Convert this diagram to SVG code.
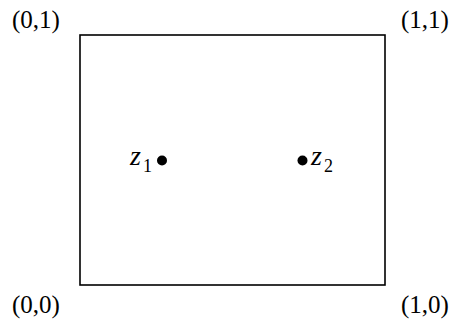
<svg xmlns="http://www.w3.org/2000/svg" width="455" height="323" viewBox="0 0 455 323">
<style>
.t{font-family:"Liberation Serif","DejaVu Serif",serif;font-size:25px;fill:#000}
.z{font-family:"Liberation Serif","DejaVu Serif",serif;font-size:28px;font-style:italic;fill:#000}
.s{font-family:"Liberation Serif","DejaVu Serif",serif;font-size:18px;fill:#000}
</style>
<rect fill="#fff" width="455" height="323"/>
<g id="square"><rect x="80" y="35" width="305" height="250" fill="none" stroke="#000" stroke-width="1.6"/></g>
<g id="labels">
<text class="t" x="12" y="28">(0,1)</text>
<text class="t" x="401" y="28">(1,1)</text>
<text class="t" x="12" y="313">(0,0)</text>
<text class="t" x="401" y="313">(1,0)</text>
</g>
<g id="z1"><circle cx="162" cy="160.5" r="5" fill="#000"/><text class="z" x="130" y="165">z</text><text class="s" x="143" y="172">1</text></g>
<g id="z2"><circle cx="302.5" cy="160.5" r="5" fill="#000"/><text class="z" x="311" y="165">z</text><text class="s" x="324" y="172">2</text></g>
</svg>
